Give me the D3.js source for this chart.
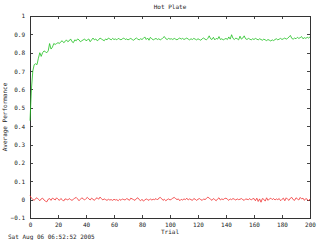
<!DOCTYPE html>
<html>
<head>
<meta charset="utf-8">
<script src="https://cdn.jsdelivr.net/npm/d3@7"></script>
<style>
  html, body { margin: 0; padding: 0; background: #fff; }
  svg text { font-family: "DejaVu Sans Mono", monospace; font-size: 6px; fill: #222; }
</style>
</head>
<body>
<svg id="chart" width="320" height="240"></svg>
<script>
var title = 'Hot Plate'
var xLabel = 'Trial'
var yLabel = 'Average Performance'
var stamp = 'Sat Aug 06 06:52:52 2005'

var xTicks = [0, 20, 40, 60, 80, 100, 120, 140, 160, 180, 200]
var yTicks = [-0.1, 0, 0.1, 0.2, 0.3, 0.4, 0.5, 0.6, 0.7, 0.8, 0.9, 1]

// one value per trial, 0..200
var greenSeries = [
  0.43, 0.6, 0.7, 0.735, 0.74, 0.735, 0.77, 0.8, 0.78, 0.8, 0.81, 0.805, 0.8, 0.81, 0.85, 0.82, 0.83, 0.85, 0.845, 0.85, 0.855,
  0.85, 0.86, 0.865, 0.855, 0.86, 0.87, 0.86, 0.865, 0.875, 0.86, 0.855, 0.87, 0.865, 0.875, 0.87, 0.86, 0.865, 0.87, 0.875, 0.865,
  0.87, 0.875, 0.86, 0.87, 0.88, 0.87, 0.875, 0.865, 0.87, 0.88, 0.875, 0.87, 0.865, 0.875, 0.87, 0.88, 0.875, 0.87, 0.878, 0.872,
  0.875, 0.87, 0.878, 0.874, 0.87, 0.876, 0.88, 0.872, 0.875, 0.87, 0.874, 0.878, 0.872, 0.868, 0.875, 0.88, 0.874, 0.87, 0.876, 0.872,
  0.878, 0.886, 0.872, 0.88, 0.868, 0.884, 0.876, 0.87, 0.874, 0.878, 0.872, 0.876, 0.87, 0.874, 0.882, 0.888, 0.876, 0.872, 0.878, 0.874,
  0.876, 0.872, 0.878, 0.874, 0.87, 0.876, 0.88, 0.874, 0.878, 0.872, 0.876, 0.88, 0.874, 0.87, 0.876, 0.872, 0.878, 0.874, 0.87, 0.876,
  0.872, 0.868, 0.876, 0.88, 0.874, 0.87, 0.878, 0.892, 0.876, 0.872, 0.884, 0.87, 0.878, 0.874, 0.888, 0.872, 0.876, 0.87, 0.874, 0.878,
  0.872, 0.886, 0.874, 0.898, 0.878, 0.872, 0.88, 0.876, 0.87, 0.89, 0.874, 0.88, 0.892, 0.876, 0.872, 0.878, 0.874, 0.87, 0.876, 0.872,
  0.878, 0.874, 0.87, 0.876, 0.872, 0.868, 0.874, 0.87, 0.866, 0.872, 0.868, 0.864, 0.87, 0.866, 0.872, 0.876, 0.87, 0.874, 0.878, 0.872,
  0.876, 0.88, 0.874, 0.878, 0.886, 0.894, 0.878, 0.874, 0.88, 0.876, 0.884, 0.878, 0.882, 0.888, 0.876, 0.882, 0.878, 0.884, 0.88, 0.886
]

var redSeries = [
  0.022, 0.008, 0.002, -0.004, 0.006, 0.01, 0.002, -0.006, 0.004, 0.008, -0.002, -0.008, -0.012, 0.002, 0.006, -0.004, 0.008, 0.004, -0.002, 0.01, 0.002,
  -0.004, 0.006, 0.0, -0.008, 0.004, 0.002, -0.002, 0.006, 0.0, -0.004, 0.002, 0.008, 0.012, 0.004, -0.006, 0.002, 0.01, 0.004, -0.002, 0.006,
  0.012, 0.004, -0.002, 0.008, 0.002, -0.004, 0.006, 0.01, 0.002, 0.014, 0.006, -0.002, 0.004, 0.0, -0.004, 0.002, -0.002, 0.0, -0.004, 0.002,
  -0.002, 0.0, -0.006, 0.002, -0.004, 0.004, 0.0, -0.002, 0.006, 0.002, -0.004, 0.008, 0.004, 0.0, -0.004, 0.006, 0.01, 0.0, -0.006, 0.002,
  -0.008, -0.002, 0.004, 0.0, -0.004, 0.004, -0.002, 0.002, 0.0, 0.006, -0.002, 0.008, 0.012, 0.006, -0.004, 0.002, -0.006, 0.0, 0.004, -0.002,
  0.002, 0.008, 0.012, 0.006, 0.0, 0.004, -0.006, 0.002, -0.002, 0.004, 0.0, 0.008, -0.002, 0.004, 0.0, -0.004, 0.006, 0.002, -0.004, 0.002,
  0.006, 0.0, -0.004, 0.004, 0.0, 0.006, 0.014, 0.008, 0.002, -0.004, 0.006, 0.0, -0.006, 0.004, 0.01, -0.002, 0.004, 0.0, 0.006, 0.008,
  0.002, -0.004, 0.004, 0.0, 0.006, 0.002, -0.002, 0.004, 0.0, 0.002, 0.006, 0.0, -0.004, 0.004, 0.002, 0.0, 0.006, -0.002, 0.004, 0.006,
  -0.006, 0.008, -0.01, 0.004, -0.014, 0.006, 0.002, -0.008, 0.01, -0.004, 0.004, 0.008, 0.0, 0.006, -0.002, 0.004, 0.0, 0.006, -0.006, 0.002,
  0.008, -0.006, 0.01, 0.002, -0.004, 0.008, 0.012, 0.0, -0.004, 0.01, 0.004, -0.002, 0.012, 0.004, 0.008, -0.004, 0.006, 0.002, -0.006, 0.004
]

;(function () {
  'use strict'

  var margin = { top: 16, right: 10, bottom: 22, left: 30 }
  var svg = d3.select('#chart')
  var width = 320 - margin.left - margin.right
  var height = 240 - margin.top - margin.bottom

  var x = d3.scaleLinear().domain([0, 200]).range([0, width])
  var y = d3.scaleLinear().domain([-0.1, 1]).range([height, 0])

  var g = svg.append('g')
    .attr('transform', 'translate(' + margin.left + ',' + margin.top + ')')

  // gnuplot style: inward ticks mirrored on all four sides
  function styleAxis (sel) {
    sel.select('.domain').remove()
    sel.selectAll('line').attr('stroke', '#444').attr('shape-rendering', 'crispEdges')
    sel.selectAll('text').attr('fill', '#222').style('font-size', '6px')
      .style('font-family', '"DejaVu Sans Mono", monospace')
  }

  g.append('g')
    .attr('transform', 'translate(0,' + height + ')')
    .call(d3.axisBottom(x).tickValues(xTicks).tickSize(-3).tickPadding(5).tickFormat(d3.format('d')))
    .call(styleAxis)

  g.append('g')
    .call(d3.axisTop(x).tickValues(xTicks).tickSize(-3).tickFormat(''))
    .call(styleAxis)

  g.append('g')
    .call(d3.axisLeft(y).tickValues(yTicks).tickSize(-3).tickPadding(5).tickFormat(function (d) {
      return d3.format('.1~f')(d)
    }))
    .call(styleAxis)

  g.append('g')
    .attr('transform', 'translate(' + width + ',0)')
    .call(d3.axisRight(y).tickValues(yTicks).tickSize(-3).tickFormat(''))
    .call(styleAxis)

  g.append('rect')
    .attr('x', 0.5)
    .attr('y', 0.5)
    .attr('width', width)
    .attr('height', height)
    .attr('fill', 'none')
    .attr('stroke', '#333')
    .attr('shape-rendering', 'crispEdges')

  var line = d3.line()
    .x(function (d, i) { return x(i) })
    .y(function (d) { return y(d) })

  g.append('path')
    .datum(redSeries)
    .attr('d', line)
    .attr('fill', 'none')
    .attr('stroke', '#f03030')
    .attr('stroke-width', 0.8)

  g.append('path')
    .datum(greenSeries)
    .attr('d', line)
    .attr('fill', 'none')
    .attr('stroke', '#20c020')
    .attr('stroke-width', 0.8)

  svg.append('text')
    .attr('x', margin.left + width / 2)
    .attr('y', 9)
    .attr('text-anchor', 'middle')
    .text(title)

  svg.append('text')
    .attr('x', margin.left + width / 2)
    .attr('y', 234)
    .attr('text-anchor', 'middle')
    .text(xLabel)

  svg.append('text')
    .attr('transform', 'translate(7,' + (margin.top + height / 2) + ') rotate(-90)')
    .attr('text-anchor', 'middle')
    .text(yLabel)

  svg.append('text')
    .attr('x', 8)
    .attr('y', 239)
    .text(stamp)
})()
</script>
</body>
</html>
